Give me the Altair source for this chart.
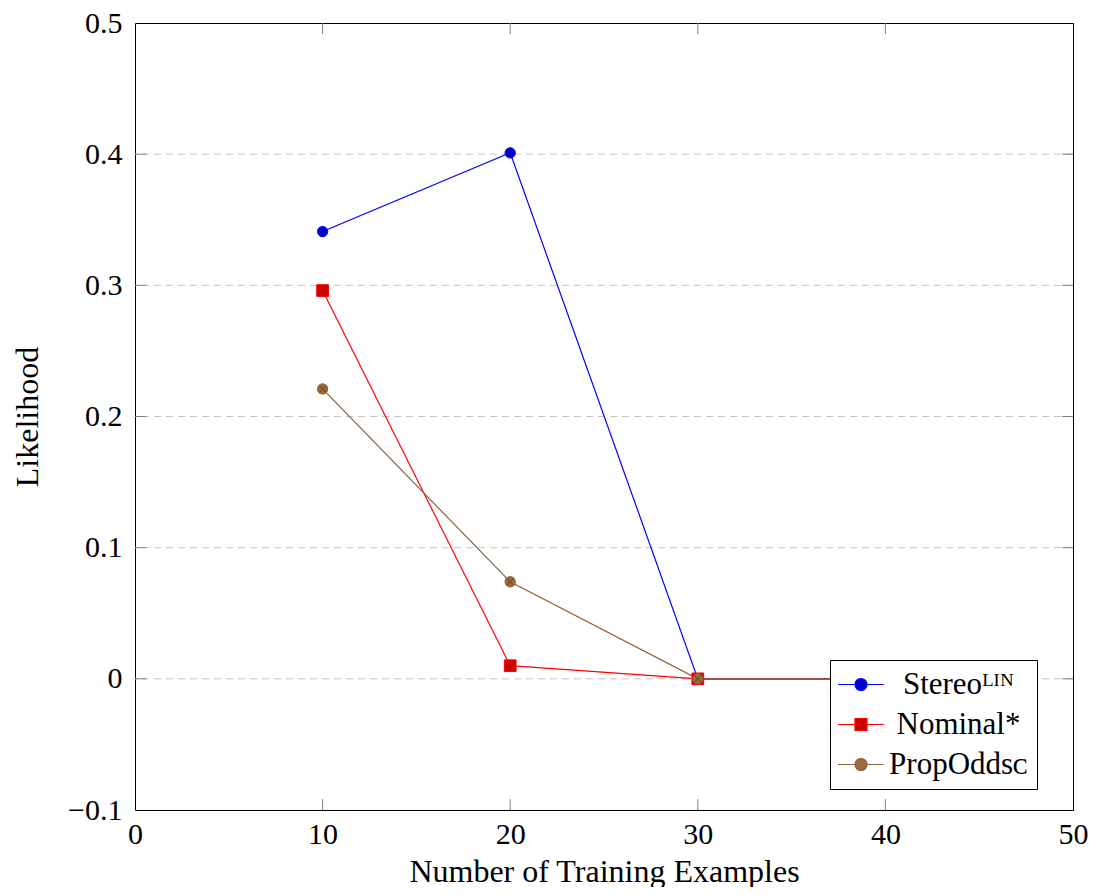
import altair as alt
import pandas as pd

# ---- data ----
legend_labels = ["Stereoᴸᴵᴺ", "Nominal*", "PropOddsᴄ"]
x_vals = [10, 20, 30, 40]
stereo = [0.341, 0.401, 0.0, 0.0]
nominal = [0.296, 0.010, 0.0, 0.0]
propodds = [0.221, 0.074, 0.0, 0.0]
x_ticks = [0, 10, 20, 30, 40, 50]
y_ticks = [-0.1, 0.0, 0.1, 0.2, 0.3, 0.4, 0.5]
x_inner_ticks = [10, 20, 30, 40]
y_inner_ticks = [0.0, 0.1, 0.2, 0.3, 0.4]

rows = []
for label, vals in zip(legend_labels, [stereo, nominal, propodds]):
    for xv, yv in zip(x_vals, vals):
        rows.append({"series": label, "x": xv, "y": yv})
df = pd.DataFrame(rows)
xt_df = pd.DataFrame({"x": x_inner_ticks})
yt_df = pd.DataFrame({"y": y_inner_ticks})

FONT = "Liberation Serif"
line_colors = ["#0000ff", "#ff0000", "#8c6239"]
fill_colors = ["#0000cc", "#cc0000", "#9c6b3a"]
legend_paths = [
    "M-1.9,0L-0.5,0M0.5,0L1.9,0M-0.5,0A0.5,0.5,0,1,1,0.5,0A0.5,0.5,0,1,1,-0.5,0Z",
    "M-1.9,0L-0.5,0M0.5,0L1.9,0M-0.5,-0.5L0.5,-0.5L0.5,0.5L-0.5,0.5Z",
    "M-1.9,0L-0.5,0M0.5,0L1.9,0M-0.5,0A0.5,0.5,0,1,1,0.5,0A0.5,0.5,0,1,1,-0.5,0Z",
]

xs = alt.Scale(domain=[0, 50], nice=False, zero=False)
ys = alt.Scale(domain=[-0.1, 0.5], nice=False, zero=False)


def stroke_scale():
    return alt.Scale(domain=legend_labels, range=line_colors)


def fill_scale():
    return alt.Scale(domain=legend_labels, range=fill_colors)


W, H = 938, 787
TICK = 11

x_axis = alt.Axis(
    values=x_ticks, format="d", title="Number of Training Examples",
    ticks=False, tickSize=0, domain=False, grid=False, labelFlush=False,
    labelPadding=33, labelBaseline="alphabetic", labelFontSize=30,
    labelFont=FONT, labelColor="black",
    titleFont=FONT, titleFontSize=32, titleFontWeight="normal", titleColor="black",
    titleX=W / 2, titleY=71, titleAlign="center", titleBaseline="alphabetic",
)
y_axis = alt.Axis(
    values=y_ticks, labelExpr="format(datum.value, '.1~f')", title="Likelihood",
    ticks=False, tickSize=0, domain=False, grid=False, labelFlush=False,
    labelPadding=13, labelBaseline="middle", labelFontSize=30,
    labelFont=FONT, labelColor="black",
    titleFont=FONT, titleFontSize=32, titleFontWeight="normal", titleColor="black",
    titleAngle=270, titleX=-98, titleY=H / 2, titleAlign="center",
    titleBaseline="alphabetic",
)


def X():
    return alt.X("x:Q", scale=xs, axis=x_axis, title="Number of Training Examples")


def Y():
    return alt.Y("y:Q", scale=ys, axis=y_axis, title="Likelihood")


legend = alt.Legend(
    orient="none", legendX=695, legendY=637, title=None, padding=9,
    strokeColor="black", fillColor="white", cornerRadius=0,
    labelFont=FONT, labelFontSize=31, labelColor="black", labelLimit=0,
    labelAlign="center", labelOffset=82, symbolOffset=6.5, rowPadding=8,
    symbolSize=576, symbolStrokeWidth=1.2, symbolOpacity=1,
)

base = alt.Chart(df)

# dashed grid lines from the tick array
grid = alt.Chart(yt_df).mark_rule(
    color="#c4c4c4", strokeWidth=1, strokeDash=[7, 5]
).encode(y=Y())

# inward ticks on all four sides
tick_style = dict(color="#808080", strokeWidth=1)
t_bottom = alt.Chart(xt_df).mark_rule(**tick_style).encode(
    x=X(), y=alt.value(H), y2=alt.value(H - TICK))
t_top = alt.Chart(xt_df).mark_rule(**tick_style).encode(
    x=X(), y=alt.value(0), y2=alt.value(TICK))
t_left = alt.Chart(yt_df).mark_rule(**tick_style).encode(
    y=Y(), x=alt.value(0), x2=alt.value(TICK))
t_right = alt.Chart(yt_df).mark_rule(**tick_style).encode(
    y=Y(), x=alt.value(W), x2=alt.value(W - TICK))

lines = base.mark_line(strokeWidth=1.2).encode(
    x=X(), y=Y(),
    stroke=alt.Stroke("series:N", scale=stroke_scale(), legend=None),
)


def pts(label, shape, size):
    return base.transform_filter(alt.datum.series == label).mark_point(
        shape=shape, size=size, filled=True, opacity=1, strokeWidth=1
    ).encode(
        x=X(), y=Y(),
        fill=alt.Fill("series:N", scale=fill_scale(), legend=None),
        stroke=alt.Stroke("series:N", scale=stroke_scale(), legend=None),
    )


p_stereo = pts(legend_labels[0], "circle", 107)
p_nominal = pts(legend_labels[1], "square", 137)
p_prop = pts(legend_labels[2], "circle", 107)
p_cross = base.transform_filter(alt.datum.series == legend_labels[2]).mark_point(
    shape="M-0.7,-0.7L0.7,0.7M-0.7,0.7L0.7,-0.7", size=107, filled=False,
    stroke="#5a3a1a", strokeWidth=0.8, opacity=1,
).encode(x=X(), y=Y())

legend_layer = base.mark_point(opacity=0, filled=True, strokeWidth=1.2).encode(
    x=X(), y=Y(),
    shape=alt.Shape("series:N", scale=alt.Scale(domain=legend_labels, range=legend_paths),
                    legend=legend),
    fill=alt.Fill("series:N", scale=fill_scale(), legend=legend),
    stroke=alt.Stroke("series:N", scale=stroke_scale(), legend=legend),
)

chart = alt.layer(
    grid, t_bottom, t_top, t_left, t_right,
    lines, p_stereo, p_nominal, p_prop, p_cross, legend_layer,
).resolve_scale(
    stroke="independent", fill="independent", shape="independent"
).properties(
    width=W, height=H,
    autosize=alt.AutoSizeParams(type="none"),
    padding={"left": 127, "top": 15, "right": 15, "bottom": 77},
    background="white",
).configure_view(
    stroke="black", strokeWidth=1
)

chart.save("out.html", embed_options={"renderer": "svg", "actions": False})
